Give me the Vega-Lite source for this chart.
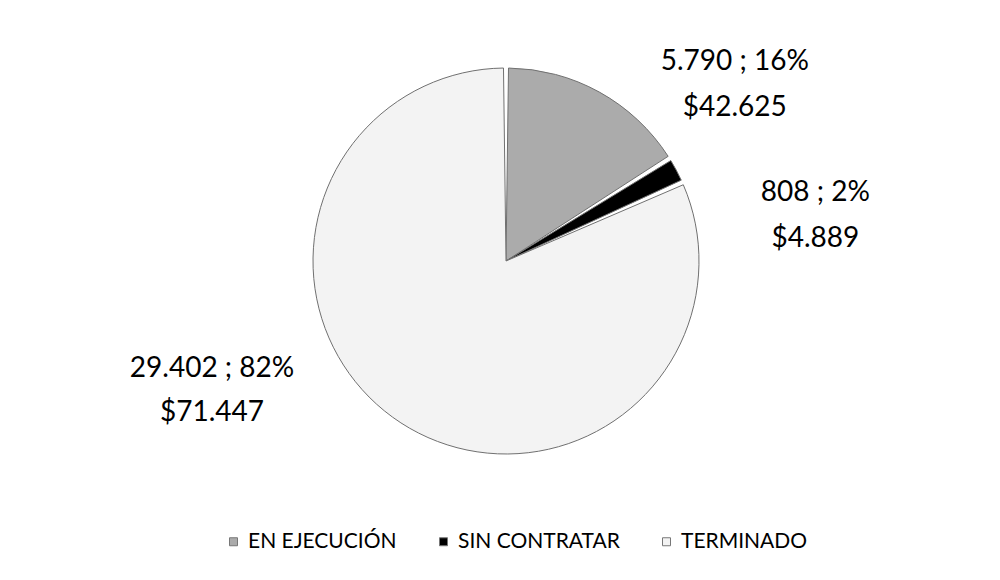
{
  "$schema": "https://vega.github.io/schema/vega-lite/v6.json",
  "width": 988,
  "height": 522,
  "autosize": {"type": "none"},
  "padding": {"left": 12, "top": 0, "right": 0, "bottom": 58},
  "background": "white",
  "data": {
    "values": [
      {"estado": "EN EJECUCIÓN", "cantidad": 5790, "etiqueta": "5.790 ; 16%\n$42.625"},
      {"estado": "SIN CONTRATAR", "cantidad": 808, "etiqueta": "808 ; 2%\n$4.889"},
      {"estado": "TERMINADO", "cantidad": 29402, "etiqueta": "29.402 ; 82%\n$71.447"}
    ]
  },
  "encoding": {
    "theta": {"field": "cantidad", "type": "quantitative", "stack": true},
    "order": {"field": "estado", "sort": "ascending"}
  },
  "layer": [
    {
      "mark": {"type": "arc", "outerRadius": 193, "padAngle": 0.026, "stroke": "#707070", "strokeWidth": 1},
      "encoding": {
        "color": {
          "field": "estado",
          "type": "nominal",
          "scale": {"domain": ["EN EJECUCIÓN", "SIN CONTRATAR", "TERMINADO"], "range": ["#ababab", "#000000", "#f3f3f3"]},
          "legend": {
            "title": null,
            "orient": "none",
            "legendX": 211,
            "legendY": 531,
            "direction": "horizontal",
            "labelFont": "Lato",
            "labelFontSize": 21,
            "labelColor": "#000000",
            "labelLimit": 400,
            "symbolType": "square",
            "symbolSize": 64,
            "symbolStrokeColor": "#777777",
            "symbolStrokeWidth": 1,
            "labelOffset": 4,
            "columnPadding": 36,
            "padding": 0
          }
        }
      }
    },
    {
      "mark": {"type": "text", "radius": 235, "dx": 115, "dy": 7, "font": "Lato", "fontSize": 28, "lineBreak": "\n", "lineHeight": 46, "align": "center", "baseline": "middle", "color": "#000000"},
      "encoding": {
        "detail": {"field": "estado"},
        "text": {"condition": {"test": "datum.estado === 'EN EJECUCIÓN'", "field": "etiqueta"}, "value": ""}
      }
    },
    {
      "mark": {"type": "text", "radius": 235, "dx": 102, "dy": 43, "font": "Lato", "fontSize": 28, "lineBreak": "\n", "lineHeight": 46, "align": "center", "baseline": "middle", "color": "#000000"},
      "encoding": {
        "detail": {"field": "estado"},
        "text": {"condition": {"test": "datum.estado === 'SIN CONTRATAR'", "field": "etiqueta"}, "value": ""}
      }
    },
    {
      "mark": {"type": "text", "radius": 235, "dx": -166, "dy": -89, "font": "Lato", "fontSize": 28, "lineBreak": "\n", "lineHeight": 44, "align": "center", "baseline": "middle", "color": "#000000"},
      "encoding": {
        "detail": {"field": "estado"},
        "text": {"condition": {"test": "datum.estado === 'TERMINADO'", "field": "etiqueta"}, "value": ""}
      }
    }
  ]
}
